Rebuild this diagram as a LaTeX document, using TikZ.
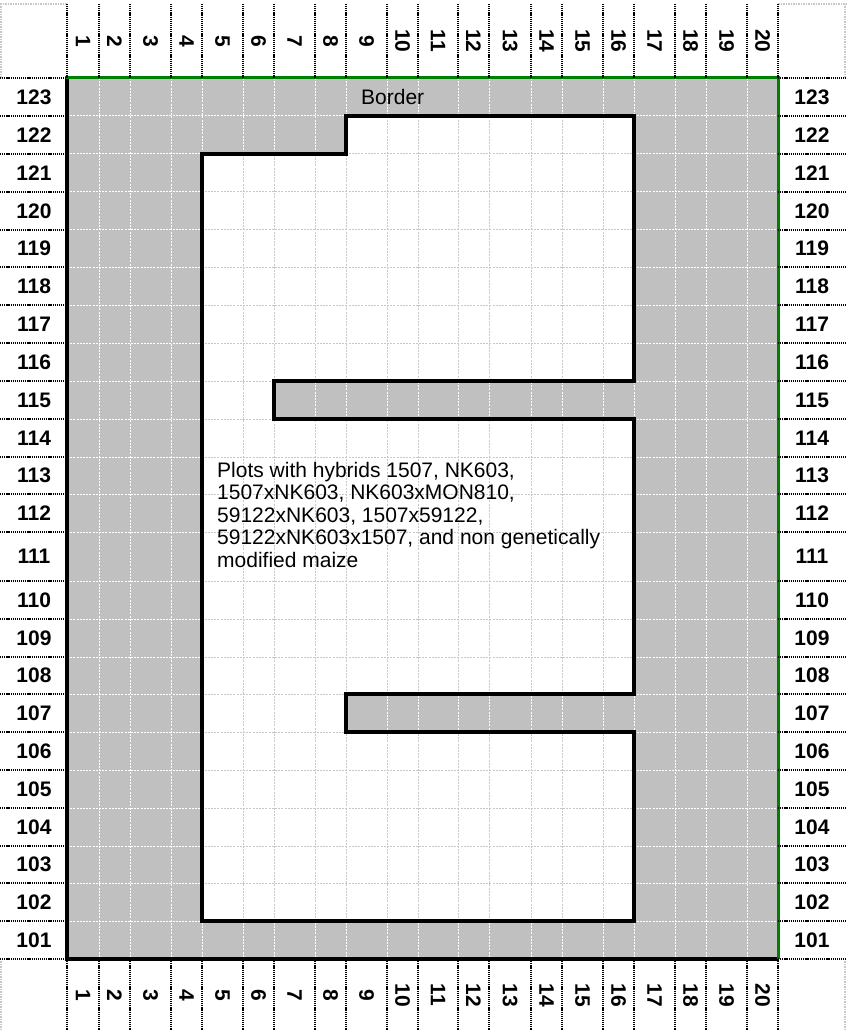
\documentclass[tikz,border=0pt]{standalone}
\usepackage{fontspec}
\setmainfont{Liberation Sans}
\definecolor{plotgray}{RGB}{192,192,192}
\definecolor{gridgray}{RGB}{200,200,200}
\definecolor{edgegreen}{RGB}{0,128,0}

% outline of the plot area (white part of the field)
\newcommand\plotarea{(202,154) -- (346,154) -- (346,116) -- (634,116) -- (634,381)
  -- (274,381) -- (274,419) -- (634,419) -- (634,694) -- (346,694) -- (346,732)
  -- (634,732) -- (634,921) -- (202,921) -- cycle}
\newcommand\colbounds{67,99,130,171,202,243,274,315,346,387,418,458,489,531,562,603,634,675,706,747,778}
\newcommand\rowbounds{78,116,154,192,230,267,305,343,381,419,457,494,532,581,619,657,694,732,770,808,846,883,921,959}

\begin{document}
\begin{tikzpicture}[x=1pt, y=-1pt,
  hdrline/.style={line width=1.6pt, dash pattern=on 1.2pt off 0.9pt},
  cornerline/.style={gridgray, line width=1.2pt, dash pattern=on 1.5pt off 1pt},
  gridline/.style={gridgray, line width=1pt, dash pattern=on 2pt off 1.2pt},
  gridwhite/.style={white, line width=1pt, dash pattern=on 2pt off 1.2pt},
  plotedge/.style={line width=3.4pt, line join=miter},
  collabel/.style={rotate=-90, inner sep=0pt, font=\bfseries\fontsize{21}{24}\selectfont},
  rowlabel/.style={inner sep=0pt, font=\bfseries\fontsize{21}{24}\selectfont}]

  \useasboundingbox (0,0) rectangle (846,1032);

  % ---------------- field ----------------
  \fill[plotgray] (67,78) rectangle (778,959);
  \foreach \x in \colbounds \draw[gridwhite] (\x,78) -- (\x,959);
  \foreach \y in \rowbounds \draw[gridwhite] (67,\y) -- (778,\y);
  \fill[white] \plotarea;
  \begin{scope}
    \clip \plotarea;
    \foreach \x in \colbounds \draw[gridline] (\x,78) -- (\x,959);
    \foreach \y in \rowbounds \draw[gridline] (67,\y) -- (778,\y);
  \end{scope}
  \draw[plotedge] \plotarea;
  \draw[plotedge] (67,78) -- (67,959) -- (779,959);
  \draw[edgegreen, line width=3pt] (65.3,78) -- (778,78) -- (778,959);

  \node[anchor=base west, inner sep=0pt, font=\fontsize{21}{24}\selectfont]
    (border) at (361,105) {Border};
  % base of a multi-line node is its last line
  \node[anchor=base west, inner sep=0pt, align=left, font=\fontsize{21}{22.5}\selectfont]
    (plots) at (217,567) {Plots with hybrids 1507, NK603,\\1507xNK603, NK603xMON810,\\59122xNK603, 1507x59122,\\59122xNK603x1507, and non genetically\\modified maize};

  % ---------------- column headers ----------------
  \draw[cornerline] (0,4) -- (67,4) (1,4) -- (1,78);
  \draw[cornerline] (778,4) -- (846,4) (845,4) -- (845,78);
  \draw[cornerline] (1,961) -- (1,1030) (845,961) -- (845,1030);
  \foreach \x in \colbounds {
    \draw[hdrline] (\x,4) -- (\x,78);
    \draw[hdrline] (\x,959) -- (\x,1030);
  }
  \foreach \xa/\xb [count=\c] in {67/99,99/130,130/171,171/202,202/243,243/274,
      274/315,315/346,346/387,387/418,418/458,458/489,489/531,531/562,562/603,
      603/634,634/675,675/706,706/747,747/778} {
    \node[collabel] (top\c) at ({(\xa+\xb)/2},41) {\c};
    \node[collabel] (bot\c) at ({(\xa+\xb)/2},995) {\c};
  }

  % ---------------- row headers ----------------
  \foreach \y in \rowbounds {
    \draw[hdrline] (0,\y) -- (67,\y);
    \draw[hdrline] (778,\y) -- (846,\y);
  }
  \foreach \ya/\yb/\r in {78/116/123,116/154/122,154/192/121,192/230/120,
      230/267/119,267/305/118,305/343/117,343/381/116,381/419/115,419/457/114,
      457/494/113,494/532/112,532/581/111,581/619/110,619/657/109,657/694/108,
      694/732/107,732/770/106,770/808/105,808/846/104,846/883/103,883/921/102,
      921/959/101} {
    \node[rowlabel] (left\r) at (34,{(\ya+\yb)/2}) {\r};
    \node[rowlabel] (right\r) at (812,{(\ya+\yb)/2}) {\r};
  }

\end{tikzpicture}
\end{document}
